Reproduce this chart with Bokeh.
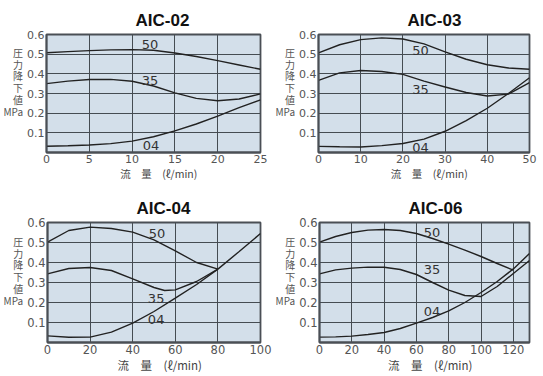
from bokeh.plotting import figure
from bokeh.models import Label, FixedTicker, Range1d
from bokeh.layouts import column, row
from bokeh.embed import file_html
from bokeh.resources import INLINE

# ---------------- data ----------------
AIC02_X = [0, 2.5, 5, 7.5, 10, 12.5, 15, 17.5, 20, 22.5, 25]
AIC02_50 = [0.507, 0.513, 0.518, 0.522, 0.523, 0.520, 0.506, 0.488, 0.467, 0.445, 0.423]
AIC02_35 = [0.350, 0.363, 0.371, 0.372, 0.362, 0.338, 0.303, 0.275, 0.263, 0.272, 0.298]
AIC02_04 = [0.032, 0.034, 0.038, 0.045, 0.058, 0.080, 0.110, 0.145, 0.185, 0.228, 0.268]
AIC02_XTICKS = [0, 5, 10, 15, 20, 25]

AIC03_X = [0, 5, 10, 15, 20, 25, 30, 35, 40, 45, 50]
AIC03_50 = [0.507, 0.548, 0.574, 0.583, 0.577, 0.552, 0.512, 0.474, 0.446, 0.430, 0.423]
AIC03_35 = [0.367, 0.405, 0.417, 0.412, 0.397, 0.363, 0.333, 0.305, 0.287, 0.297, 0.355]
AIC03_04 = [0.031, 0.029, 0.028, 0.035, 0.046, 0.068, 0.108, 0.162, 0.225, 0.300, 0.380]
AIC03_XTICKS = [0, 10, 20, 30, 40, 50]

AIC04_X50 = [0, 10, 20, 30, 40, 50, 60, 70, 80]
AIC04_50 = [0.502, 0.560, 0.577, 0.570, 0.552, 0.513, 0.458, 0.400, 0.367]
AIC04_X35 = [0, 10, 20, 30, 40, 50, 55, 60, 70, 80]
AIC04_35 = [0.343, 0.370, 0.375, 0.360, 0.318, 0.275, 0.260, 0.263, 0.305, 0.367]
AIC04_X04 = [0, 10, 20, 30, 40, 50, 60, 70, 80, 90, 100]
AIC04_04 = [0.033, 0.026, 0.027, 0.052, 0.097, 0.155, 0.222, 0.290, 0.367, 0.455, 0.545]
AIC04_XTICKS = [0, 20, 40, 60, 80, 100]

AIC06_X50 = [0, 10, 20, 30, 40, 50, 60, 70, 80, 90, 100, 110, 120]
AIC06_50 = [0.502, 0.530, 0.550, 0.562, 0.565, 0.560, 0.545, 0.520, 0.492, 0.462, 0.430, 0.395, 0.362]
AIC06_X = [0, 10, 20, 30, 40, 50, 60, 70, 80, 90, 100, 110, 120, 130]
AIC06_35 = [0.343, 0.363, 0.372, 0.377, 0.376, 0.365, 0.340, 0.300, 0.262, 0.235, 0.230, 0.280, 0.345, 0.410]
AIC06_04 = [0.027, 0.028, 0.032, 0.040, 0.050, 0.070, 0.097, 0.125, 0.158, 0.200, 0.250, 0.305, 0.368, 0.445]
AIC06_XTICKS = [0, 20, 40, 60, 80, 100, 120]

Y_TICKS = [0.1, 0.2, 0.3, 0.4, 0.5, 0.6]
CURVE_NAMES = ["50", "35", "04"]
Y_LABEL = "圧\n力\n降\n下\n値\nMPa\n \n "
X_LABEL = "\u2002\u2002流　量　(ℓ/min)"

TICK_FONT = "DejaVu Sans"
CJK_FONT = "Noto Sans CJK JP"


def panel(title, series, x_max, xticks, name_pos, w, h, bl, br, bt, bb, big):
    p = figure(width=w, height=h, x_range=Range1d(0, x_max), y_range=Range1d(0, 0.6),
               output_backend="svg", toolbar_location=None,
               min_border_left=bl, min_border_right=br,
               min_border_top=bt, min_border_bottom=bb)
    p.background_fill_color = "#d3dfea"
    p.border_fill_color = "white"
    p.outline_line_color = "#4a4f55"
    p.outline_line_width = 1.8

    p.title.text = title
    p.title.align = "left"
    p.title.offset = 89
    p.title.text_font = "Liberation Sans"
    p.title.text_font_style = "bold"
    p.title.text_font_size = "17px"
    p.title.text_color = "#111111"
    p.title.standoff = 6
    p.title.vertical_align = "top"

    p.xaxis.ticker = FixedTicker(ticks=xticks)
    p.yaxis.ticker = FixedTicker(ticks=Y_TICKS)
    p.xgrid.ticker = FixedTicker(ticks=xticks)
    p.ygrid.ticker = FixedTicker(ticks=Y_TICKS)
    for g in (p.xgrid, p.ygrid):
        g.grid_line_color = "#454c52"
        g.grid_line_width = 1
    for ax in (p.xaxis, p.yaxis):
        ax.axis_line_color = "#4a4f55"
        ax.axis_line_width = 1.8
        ax.major_tick_line_color = None
        ax.minor_tick_line_color = None
        ax.major_tick_out = 0
        ax.major_tick_in = 0
        ax.minor_tick_out = 0
        ax.minor_tick_in = 0
        ax.major_label_text_font = TICK_FONT
        ax.major_label_text_font_size = "11.5px" if big else "11px"
        ax.major_label_text_color = "#555555"
        ax.major_label_standoff = 2

    p.xaxis.axis_label = X_LABEL
    p.xaxis.axis_label_text_font = CJK_FONT
    p.xaxis.axis_label_text_font_style = "normal"
    p.xaxis.axis_label_text_font_size = "11.5px" if big else "10.5px"
    p.xaxis.axis_label_text_line_height = 0.8
    p.xaxis.axis_label_text_color = "#444444"
    p.xaxis.axis_label_standoff = 0

    p.yaxis.axis_label = Y_LABEL
    p.yaxis.axis_label_orientation = "horizontal"
    p.yaxis.axis_label_text_font = CJK_FONT
    p.yaxis.axis_label_text_font_style = "normal"
    p.yaxis.axis_label_text_font_size = "10px"
    p.yaxis.axis_label_text_line_height = 0.78
    p.yaxis.axis_label_text_color = "#555555"
    p.yaxis.axis_label_standoff = 1

    for xs, ys in series:
        p.line(xs, ys, line_color="#222222", line_width=1.4)

    for txt, (lx, ly) in zip(CURVE_NAMES, name_pos):
        p.add_layout(Label(x=lx, y=ly, text=txt, text_align="center", text_baseline="middle",
                           text_font=TICK_FONT, text_font_size="13px", text_color="#333333"))
    return p


p1 = panel("AIC-02",
           [(AIC02_X, AIC02_50), (AIC02_X, AIC02_35), (AIC02_X, AIC02_04)],
           25, AIC02_XTICKS, [(12.1, 0.55), (12.1, 0.368), (12.2, 0.035)],
           272, 188, 46, 12, 34, 36, False)
p2 = panel("AIC-03",
           [(AIC03_X, AIC03_50), (AIC03_X, AIC03_35), (AIC03_X, AIC03_04)],
           50, AIC03_XTICKS, [(24.2, 0.519), (24.2, 0.32), (24.2, 0.025)],
           271, 188, 42, 14, 34, 36, False)
p3 = panel("AIC-04",
           [(AIC04_X50, AIC04_50), (AIC04_X35, AIC04_35), (AIC04_X04, AIC04_04)],
           100, AIC04_XTICKS, [(51.4, 0.547), (51, 0.222), (51, 0.113)],
           272, 188, 46, 12, 34, 34, True)
p4 = panel("AIC-06",
           [(AIC06_X50, AIC06_50), (AIC06_X, AIC06_35), (AIC06_X, AIC06_04)],
           130, AIC06_XTICKS, [(69.6, 0.55), (69.6, 0.363), (69.6, 0.155)],
           271, 188, 42, 14, 34, 34, True)

layout = column(row(p1, p2), row(p3, p4))
open("out.html", "w").write(file_html(layout, INLINE))
